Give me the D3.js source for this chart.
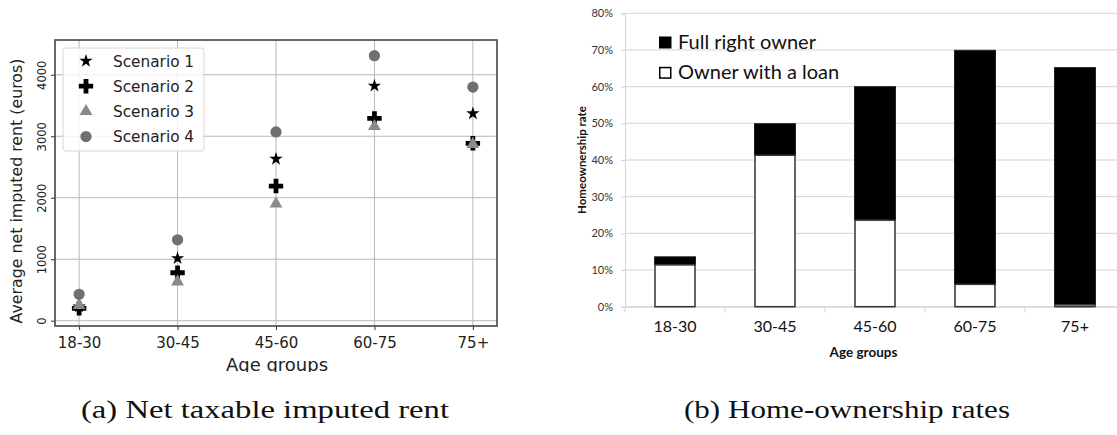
<!DOCTYPE html>
<html>
<head>
<meta charset="utf-8">
<script src="https://cdn.jsdelivr.net/npm/d3@7"></script>
<style>
  html, body { margin: 0; padding: 0; background: #fff; }
  svg { display: block; }
</style>
</head>
<body>
<script>
// ---------- DATA ----------
const ageGroups = ["18-30", "30-45", "45-60", "60-75", "75+"];
const scenarioNames = ["Scenario 1", "Scenario 2", "Scenario 3", "Scenario 4"];
const scenario1 = [230, 1015, 2630, 3820, 3370];
const scenario2 = [200, 780, 2190, 3290, 2885];
const scenario3 = [250, 635, 1900, 3160, 2870];
const scenario4 = [430, 1315, 3070, 4310, 3800];
const rentTicks = [0, 1000, 2000, 3000, 4000];

const ownerLoan = [11.4, 41.3, 23.6, 6.1, 0.5];     // % owners with a loan
const fullOwner = [2.2, 8.6, 36.4, 63.8, 64.7];     // % full right owners
const rateTicks = [0, 10, 20, 30, 40, 50, 60, 70, 80];
const ownershipLegend = ["Full right owner", "Owner with a loan"];

const captionA = "(a) Net taxable imputed rent";
const captionB = "(b) Home-ownership rates";

// ---------- SVG ----------
const W = 1117, H = 435;
const svg = d3.select("body").append("svg").attr("width", W).attr("height", H);

// ================= LEFT CHART (matplotlib style) =================
const L = { left: 55, right: 497, top: 40, bottom: 326 };
svg.append("defs").append("clipPath").attr("id", "clipA")
  .append("rect").attr("x", 0).attr("y", 0).attr("width", 540).attr("height", 372);
const gA = svg.append("g").attr("clip-path", "url(#clipA)");

const xA = d3.scaleLinear().domain([-0.245, 4.245]).range([L.left, L.right]);
const yA = d3.scaleLinear().domain([-86, 4565]).range([L.bottom, L.top]);

// grid
gA.append("g").selectAll("line").data(ageGroups).join("line")
  .attr("x1", (d, i) => xA(i)).attr("x2", (d, i) => xA(i))
  .attr("y1", L.top).attr("y2", L.bottom)
  .attr("stroke", "#b8b8b8").attr("stroke-width", 1);
gA.append("g").selectAll("line").data(rentTicks).join("line")
  .attr("x1", L.left).attr("x2", L.right)
  .attr("y1", d => yA(d)).attr("y2", d => yA(d))
  .attr("stroke", "#b8b8b8").attr("stroke-width", 1);

// axes via d3
const xAxisA = d3.axisBottom(xA).tickValues(d3.range(ageGroups.length))
  .tickFormat(i => ageGroups[i]).tickSize(4).tickPadding(4);
const gx = gA.append("g").attr("transform", `translate(0,${L.bottom})`).call(xAxisA);
gx.select(".domain").remove();
gx.selectAll(".tick line").attr("stroke", "#333");
gx.selectAll(".tick text").attr("font-family", "DejaVu Sans").attr("font-size", 15)
  .attr("fill", "#222").attr("dy", "0.95em");

const yAxisA = d3.axisLeft(yA).tickValues(rentTicks).tickSize(4).tickPadding(0)
  .tickFormat(d3.format("d"));
const gy = gA.append("g").attr("transform", `translate(${L.left},0)`).call(yAxisA);
gy.select(".domain").remove();
gy.selectAll(".tick line").attr("stroke", "#333");
gy.selectAll(".tick text").attr("font-family", "DejaVu Sans").attr("font-size", 11.5)
  .attr("fill", "#222").attr("text-anchor", "middle").attr("dy", 0)
  .attr("x", 0).attr("transform", "translate(-13,0) rotate(-90)")
  .attr("dominant-baseline", "central");

// frame
gA.append("rect").attr("x", L.left).attr("y", L.top)
  .attr("width", L.right - L.left).attr("height", L.bottom - L.top)
  .attr("fill", "none").attr("stroke", "#444").attr("stroke-width", 1.6);

// axis labels
gA.append("text").attr("x", (L.left + L.right) / 2 + 1).attr("y", 371)
  .attr("text-anchor", "middle").attr("font-family", "DejaVu Sans").attr("font-size", 18)
  .attr("fill", "#222").text("Age groups");
gA.append("text").attr("transform", `translate(22,${(L.top + L.bottom) / 2 + 8}) rotate(-90)`)
  .attr("text-anchor", "middle").attr("font-family", "DejaVu Sans").attr("font-size", 15.8)
  .attr("fill", "#222").text("Average net imputed rent (euros)");

// markers
const series = [scenario1, scenario2, scenario3, scenario4];
const markerSpec = [
  { type: d3.symbolStar, size: 55, fill: "#000" },
  { type: d3.symbolCross, size: 115, fill: "#000" },
  { type: d3.symbolTriangle, size: 72, fill: "#8a8a8a" },
  { type: d3.symbolCircle, size: 100, fill: "#707070" }
];
series.forEach((vals, s) => {
  const m = markerSpec[s];
  gA.append("g").selectAll("path").data(vals).join("path")
    .attr("d", d3.symbol().type(m.type).size(m.size))
    .attr("transform", (d, i) => `translate(${xA(i)},${yA(d)})`)
    .attr("fill", m.fill);
});

// legend
const lg = gA.append("g");
lg.append("rect").attr("x", 63).attr("y", 48).attr("width", 141).attr("height", 103)
  .attr("rx", 3).attr("fill", "rgba(255,255,255,0.8)").attr("stroke", "#d6d6d6");
scenarioNames.forEach((name, s) => {
  const ry = 61 + s * 25.2;
  const m = markerSpec[s];
  lg.append("path").attr("d", d3.symbol().type(m.type).size(m.size))
    .attr("transform", `translate(86,${ry})`).attr("fill", m.fill);
  lg.append("text").attr("x", 113).attr("y", ry + 5.5)
    .attr("font-family", "DejaVu Sans").attr("font-size", 15.3).attr("fill", "#222").text(name);
});

// ================= RIGHT CHART (Excel style) =================
const R = { left: 625, right: 1125, top: 13.3, bottom: 306.7 };
const gB = svg.append("g");
const xB = d3.scaleBand().domain(ageGroups).range([R.left, R.right]).paddingInner(0).paddingOuter(0);
const yB = d3.scaleLinear().domain([0, 80]).range([R.bottom, R.top]);
const barW = 41;

// gridlines
gB.append("g").selectAll("line").data(rateTicks).join("line")
  .attr("x1", R.left).attr("x2", R.right)
  .attr("y1", d => yB(d)).attr("y2", d => yB(d))
  .attr("stroke", "#d4d4d4").attr("stroke-width", 1);

// y axis
const yAxisB = d3.axisLeft(yB).tickValues(rateTicks).tickSize(4).tickPadding(8)
  .tickFormat(d => d + "%");
const gyB = gB.append("g").attr("transform", `translate(${R.left},0)`).call(yAxisB);
gyB.select(".domain").attr("stroke", "#d4d4d4");
gyB.selectAll(".tick line").attr("stroke", "#d4d4d4");
gyB.selectAll(".tick text").attr("font-family", "Lato").attr("font-size", 11)
  .attr("fill", "#333");

// x axis
const xAxisB = d3.axisBottom(xB).tickSize(0).tickPadding(14);
const gxB = gB.append("g").attr("transform", `translate(0,${R.bottom})`).call(xAxisB);
gxB.select(".domain").attr("stroke", "#d4d4d4");
gxB.selectAll(".tick text").attr("font-family", "Lato").attr("font-size", 16)
  .attr("fill", "#111");
gB.append("g").selectAll("line").data(d3.range(ageGroups.length + 1)).join("line")
  .attr("x1", i => R.left + i * xB.bandwidth()).attr("x2", i => R.left + i * xB.bandwidth())
  .attr("y1", R.bottom).attr("y2", R.bottom + 6)
  .attr("stroke", "#d4d4d4");

// bars
const stacked = ageGroups.map((g, i) => ({ g, loan: ownerLoan[i], full: fullOwner[i] }));
gB.append("g").selectAll("rect").data(stacked).join("rect")
  .attr("x", d => xB(d.g) + (xB.bandwidth() - barW) / 2)
  .attr("width", barW)
  .attr("y", d => yB(d.loan + d.full))
  .attr("height", d => yB(d.loan) - yB(d.loan + d.full))
  .attr("fill", "#000").attr("stroke", "#222").attr("stroke-width", 1);
gB.append("g").selectAll("rect").data(stacked).join("rect")
  .attr("x", d => xB(d.g) + (xB.bandwidth() - barW) / 2 + 0.5)
  .attr("width", barW - 1)
  .attr("y", d => yB(d.loan))
  .attr("height", d => yB(0) - yB(d.loan))
  .attr("fill", "#fff").attr("stroke", "#333").attr("stroke-width", 1.5);

// axis titles
gB.append("text").attr("x", (R.left + R.right - 8) / 2 - 7.5).attr("y", 357)
  .attr("text-anchor", "middle").attr("font-family", "Lato").attr("font-weight", "bold")
  .attr("font-size", 13.5).attr("fill", "#111").text("Age groups");
gB.append("text").attr("transform", `translate(586,160) rotate(-90)`)
  .attr("text-anchor", "middle").attr("font-family", "Lato").attr("font-weight", "bold")
  .attr("font-size", 11.5).attr("fill", "#111").text("Homeownership rate");

// legend
const legB = gB.append("g");
ownershipLegend.forEach((name, k) => {
  const by = 36.5 + k * 30.3;
  legB.append("rect").attr("x", k === 0 ? 659 : 659.75).attr("y", k === 0 ? by : by + 0.75)
    .attr("width", k === 0 ? 12.5 : 11).attr("height", k === 0 ? 12 : 10.5)
    .attr("fill", k === 0 ? "#000" : "#fff").attr("stroke", "#000")
    .attr("stroke-width", k === 0 ? 0 : 1.5);
  legB.append("text").attr("x", 678).attr("y", by + 12)
    .attr("font-family", "Lato").attr("font-size", 20).attr("fill", "#111").text(name);
});

// ================= CAPTIONS =================
svg.append("text").attr("x", 265).attr("y", 418).attr("text-anchor", "middle")
  .attr("font-family", "Liberation Serif").attr("font-size", 25)
  .attr("textLength", 368).attr("lengthAdjust", "spacingAndGlyphs")
  .attr("fill", "#111").text(captionA);
svg.append("text").attr("x", 847).attr("y", 418).attr("text-anchor", "middle")
  .attr("font-family", "Liberation Serif").attr("font-size", 25)
  .attr("textLength", 326).attr("lengthAdjust", "spacingAndGlyphs")
  .attr("fill", "#111").text(captionB);
</script>
</body>
</html>
